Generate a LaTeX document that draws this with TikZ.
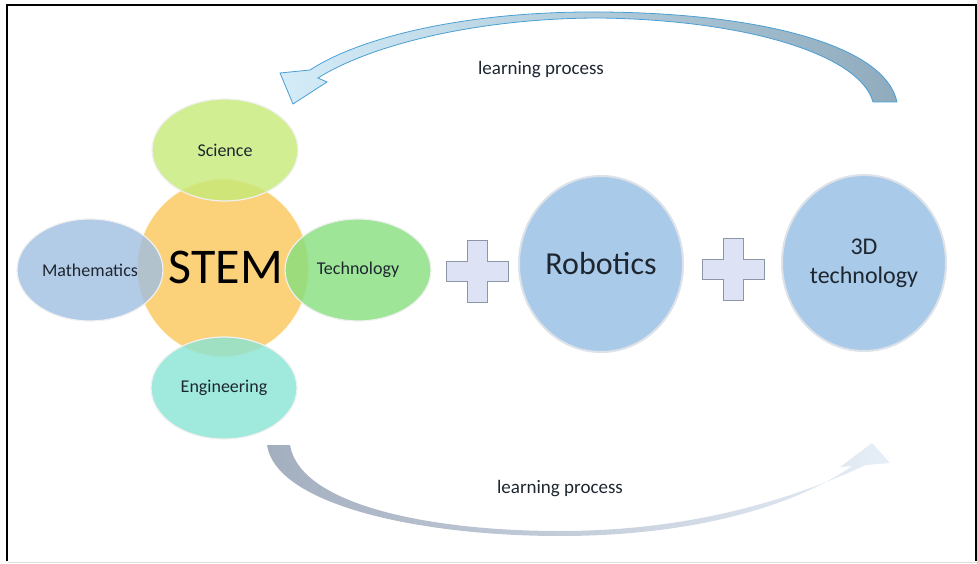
\documentclass[tikz,border=0pt]{standalone}
\usepackage{fontspec}
\setmainfont{Carlito}
\usetikzlibrary{shapes.geometric}
\definecolor{sciC}{HTML}{C6EA78}
\definecolor{stemC}{HTML}{FBD17A}
\definecolor{mathC}{HTML}{9FBFE2}
\definecolor{techC}{HTML}{86DF7E}
\definecolor{engC}{HTML}{88E4D4}
\definecolor{roboC}{HTML}{A9CAE8}
\definecolor{rimC}{HTML}{DCE2E8}
\definecolor{plusC}{HTML}{DDE3F4}
\definecolor{plusE}{HTML}{8C96A6}
\definecolor{arrLine}{HTML}{4A9FD4}
\definecolor{arrL}{HTML}{D4ECF8}
\definecolor{arrR}{HTML}{8FABBD}
\definecolor{barL}{HTML}{A3AEBF}
\definecolor{barR}{HTML}{E6EEF7}
\definecolor{txt}{HTML}{1E2630}
\begin{document}
\begin{tikzpicture}[x=1pt,y=-1pt,
  sat/.style={ellipse, inner sep=0pt, minimum width=146pt, minimum height=102pt,
    draw=white!88!gray, line width=1.2pt, fill opacity=0.8, text opacity=1,
    font=\fontsize{18}{20}\selectfont, text=txt},
  bigc/.style={ellipse, inner sep=0pt, minimum width=164pt, minimum height=176pt,
    fill=roboC, draw=rimC, line width=2pt, text=txt, align=center},
  plusshape/.style={fill=plusC, draw=plusE, line width=0.8pt},
  lbl/.style={font=\fontsize{19}{22}\selectfont, text=txt}
]
\useasboundingbox (0,0) rectangle (977,564);
% frame
\draw[line width=2pt] (6.5,561) -- (6.5,5.5) -- (975.5,5.5) -- (975.5,561);
\draw[line width=1.5pt, black!13] (8,562.5) -- (977,562.5);

% top learning-process arrow
\path[draw=arrLine, line width=0.8pt, left color=arrL, right color=arrR]
  (897,102) .. controls (885,45) and (760,13) .. (600,12)
  .. controls (470,11) and (362,36) .. (310,70)
  -- (280,73) -- (293,104) -- (327,82) -- (318,78)
  .. controls (372,44) and (480,18) .. (600,18)
  .. controls (748,20) and (860,55) .. (873,102) -- cycle;
\node[lbl] (lp1) at (541,70) {learning process};

% bottom learning-process arrow
\path[left color=barL, right color=barR]
  (267,445) .. controls (276,505) and (420,536) .. (560,536)
  .. controls (700,536) and (800,503) .. (852,466)
  -- (840,467) -- (872,443) -- (890,463) -- (866,465)
  .. controls (790,500) and (690,531) .. (560,531)
  .. controls (430,531) and (300,505) .. (290,445) -- cycle;
\node[lbl] (lp2) at (560,489) {learning process};

% STEM cluster
\node[ellipse, inner sep=0pt, minimum width=172pt, minimum height=178pt,
  fill=stemC, draw=white!90!stemC, line width=1.2pt] (stem) at (223,268) {};
\node[sat, fill=sciC] (sci) at (225,150) {Science};
\node[sat, fill=mathC] (math) at (90,270) {Mathematics};
\node[sat, fill=techC] (tech) at (358,270) {Technology};
\node[sat, fill=engC] (eng) at (224,388) {Engineering};
\node[font=\fontsize{50}{52}\selectfont, text=black] (stemtxt) at (226,267) {STEM};

% plus signs
\path[plusshape, shift={(477,271)}] (-10,-31) -- ++(20,0) -- ++(0,21) -- ++(21,0)
  -- ++(0,20) -- ++(-21,0) -- ++(0,21) -- ++(-20,0) -- ++(0,-21) -- ++(-21,0)
  -- ++(0,-20) -- ++(21,0) -- cycle;
\path[plusshape, shift={(733,269)}] (-10,-31) -- ++(20,0) -- ++(0,21) -- ++(21,0)
  -- ++(0,20) -- ++(-21,0) -- ++(0,21) -- ++(-20,0) -- ++(0,-21) -- ++(-21,0)
  -- ++(0,-20) -- ++(21,0) -- cycle;

% Robotics and 3D technology
\node[bigc, font=\fontsize{32}{36}\selectfont] (robo) at (601,264) {Robotics};
\node[bigc, font=\fontsize{24}{29}\selectfont] (tdt) at (864,263) {3D\\technology};
\end{tikzpicture}
\end{document}
